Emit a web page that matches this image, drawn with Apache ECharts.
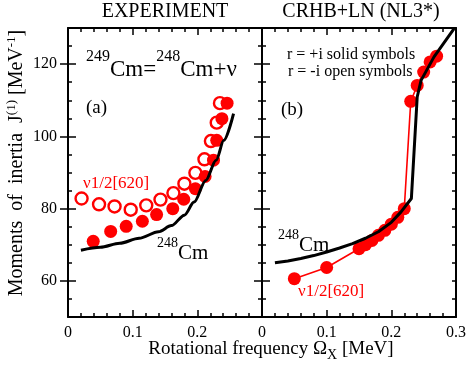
<!DOCTYPE html>
<html>
<head>
<meta charset="utf-8">
<script src="https://cdn.jsdelivr.net/npm/echarts@6/dist/echarts.min.js"></script>
<style>html,body{margin:0;padding:0;background:#fff}#c{width:469px;height:369px}</style>
</head>
<body>
<div id="c"></div>
<script>
// ---------- data ----------
// Panel (a) EXPERIMENT
const expCurveX = [0.02, 0.05, 0.08, 0.11, 0.14, 0.16, 0.18, 0.195, 0.213, 0.229, 0.241, 0.256];
const expCurveY = [68.5, 69.3, 70.4, 71.8, 73.6, 75.3, 78.2, 81.8, 87.8, 93.4, 98.9, 106.3];
const expSolidX = [0.039, 0.066, 0.090, 0.115, 0.137, 0.162, 0.179, 0.197, 0.212, 0.225, 0.230, 0.238, 0.246];
const expSolidY = [70.95, 73.7, 75.1, 76.5, 78.35, 80.0, 82.6, 85.5, 88.9, 93.4, 98.9, 104.9, 109.2];
const expOpenX = [0.021, 0.048, 0.072, 0.097, 0.121, 0.143, 0.163, 0.180, 0.197, 0.211, 0.221, 0.230, 0.235];
const expOpenY = [82.8, 81.2, 80.6, 79.7, 80.9, 82.5, 84.3, 86.9, 89.9, 93.65, 98.7, 103.8, 109.2];
// Panel (b) CRHB+LN (NL3*)
const thCurveX = [0.02, 0.04, 0.06, 0.08, 0.10, 0.12, 0.14, 0.16, 0.18, 0.20, 0.215, 0.231, 0.24, 0.246, 0.266, 0.297];
const thCurveY = [65.0, 65.5, 66.2, 67.0, 68.0, 69.1, 70.3, 71.8, 73.6, 76.2, 79.1, 82.8, 110.9, 115.5, 122.0, 129.8];
const thNuX = [0.05, 0.10, 0.15, 0.16, 0.17, 0.18, 0.19, 0.20, 0.21, 0.22, 0.23, 0.24, 0.25, 0.26, 0.27];
const thNuY = [60.6, 63.7, 68.9, 70.0, 71.2, 72.6, 74.0, 75.7, 77.6, 80.0, 109.7, 114.1, 117.8, 120.6, 122.2];
// Axes
const xTickValues = [0, 0.1, 0.2, 0.3];
const yLabelValues = [60, 80, 100, 120];

// ---------- chart ----------
const FONT = 'Liberation Serif';
const RED = '#ff0000';
const pair = (xs, ys) => xs.map((x, i) => [x, ys[i]]);

function xAxisCfg(gi, pos, showLabel, showMax) {
  return {
    type: 'value', gridIndex: gi, position: pos, min: 0, max: 0.3, interval: 0.1,
    axisLine: { show: true, onZero: false, lineStyle: { color: '#000', width: 2 } },
    axisTick: { show: true, inside: true, length: 7, lineStyle: { color: '#000', width: 1.5 } },
    minorTick: { show: true, splitNumber: 5, length: 4, lineStyle: { color: '#000', width: 1.5 } },
    splitLine: { show: false }, minorSplitLine: { show: false },
    axisLabel: {
      show: showLabel, showMaxLabel: showMax, showMinLabel: true,
      fontFamily: FONT, fontSize: 16, color: '#000', margin: 8,
      formatter: v => { const r = Math.round(v * 10) / 10; return xTickValues.indexOf(r) >= 0 ? String(r) : ''; }
    }
  };
}
function yMinorCfg(gi, pos, showLabel) {
  return {
    type: 'value', gridIndex: gi, position: pos, min: 50, max: 130, interval: 5,
    axisLine: { show: true, onZero: false, lineStyle: { color: '#000', width: 2 } },
    axisTick: { show: true, inside: true, length: 4, lineStyle: { color: '#000', width: 1.5 } },
    splitLine: { show: false },
    axisLabel: {
      show: showLabel, fontFamily: FONT, fontSize: 16, color: '#000', margin: 11,
      formatter: v => yLabelValues.indexOf(v) >= 0 ? String(v) : ''
    }
  };
}
function yMajorCfg(gi, pos) {
  return {
    type: 'value', gridIndex: gi, position: pos, min: 50, max: 130, interval: 5,
    axisLine: { show: false },
    axisTick: { show: true, inside: true, length: 8, customValues: yLabelValues, lineStyle: { color: '#000', width: 1.5 } },
    splitLine: { show: false },
    axisLabel: { show: false }
  };
}

const chart = echarts.init(document.getElementById('c'), null, { renderer: 'canvas' });

const supRich = (main, sup, pad) => ({
  m: { fontFamily: FONT, fontSize: main, verticalAlign: 'bottom', fill: '#000' },
  s: { fontFamily: FONT, fontSize: sup, verticalAlign: 'bottom', padding: [0, 0, pad, 0], fill: '#000' }
});

chart.setOption({
  animation: false,
  backgroundColor: '#fff',
  grid: [
    { left: 68, top: 28, width: 194, height: 289 },
    { left: 262, top: 28, width: 195, height: 289 }
  ],
  xAxis: [
    xAxisCfg(0, 'bottom', true, false),
    xAxisCfg(0, 'top', false, false),
    xAxisCfg(1, 'bottom', true, true),
    xAxisCfg(1, 'top', false, false)
  ],
  yAxis: [
    yMinorCfg(0, 'left', true),
    yMinorCfg(0, 'right', false),
    yMajorCfg(0, 'left'),
    yMajorCfg(0, 'right'),
    yMinorCfg(1, 'left', false),
    yMinorCfg(1, 'right', false),
    yMajorCfg(1, 'left'),
    yMajorCfg(1, 'right')
  ],
  series: [
    { type: 'scatter', xAxisIndex: 0, yAxisIndex: 0, z: 2, symbol: 'circle', symbolSize: 12,
      itemStyle: { color: '#fff', borderColor: RED, borderWidth: 2.4, opacity: 1 },
      data: pair(expOpenX, expOpenY) },
    { type: 'scatter', xAxisIndex: 0, yAxisIndex: 0, z: 3, symbol: 'circle', symbolSize: 13,
      itemStyle: { color: RED, opacity: 1 },
      data: pair(expSolidX, expSolidY) },
    { type: 'line', xAxisIndex: 0, yAxisIndex: 0, z: 4, showSymbol: false, smooth: 0.3, smoothMonotone: 'x',
      lineStyle: { color: '#000', width: 3 },
      data: pair(expCurveX, expCurveY) },
    { type: 'line', xAxisIndex: 2, yAxisIndex: 4, z: 2, symbol: 'circle', symbolSize: 13, showSymbol: true,
      lineStyle: { color: RED, width: 1.6 }, itemStyle: { color: RED },
      data: pair(thNuX, thNuY) },
    { type: 'line', xAxisIndex: 2, yAxisIndex: 4, z: 4, showSymbol: false,
      lineStyle: { color: '#000', width: 3 },
      data: pair(thCurveX, thCurveY) }
  ],
  graphic: [
    { type: 'text', x: 165, y: 12, style: { text: 'EXPERIMENT', fontFamily: FONT, fontSize: 20, fill: '#000', align: 'center', verticalAlign: 'middle' } },
    { type: 'text', x: 361, y: 12, style: { text: 'CRHB+LN (NL3*)', fontFamily: FONT, fontSize: 20, fill: '#000', align: 'center', verticalAlign: 'middle' } },
    { type: 'text', x: 86, y: 81, style: { text: '{s|249}{m|Cm=}{s|248}{m|Cm+ν}', rich: supRich(23, 16, 16), align: 'left', verticalAlign: 'bottom' } },
    { type: 'text', x: 86, y: 108, style: { text: '(a)', fontFamily: FONT, fontSize: 19, fill: '#000', align: 'left', verticalAlign: 'middle' } },
    { type: 'text', x: 83, y: 184, style: { text: 'ν1/2[620]', fontFamily: FONT, fontSize: 17, fill: RED, align: 'left', verticalAlign: 'middle' } },
    { type: 'text', x: 157, y: 264, style: { text: '{s|248}{m|Cm}', rich: supRich(21, 14, 14), align: 'left', verticalAlign: 'bottom' } },
    { type: 'text', x: 281, y: 110, style: { text: '(b)', fontFamily: FONT, fontSize: 19, fill: '#000', align: 'left', verticalAlign: 'middle' } },
    { type: 'text', x: 287, y: 55, style: { text: 'r = +i solid symbols', fontFamily: FONT, fontSize: 16, fill: '#000', align: 'left', verticalAlign: 'middle' } },
    { type: 'text', x: 288, y: 72, style: { text: 'r = -i open symbols', fontFamily: FONT, fontSize: 16, fill: '#000', align: 'left', verticalAlign: 'middle' } },
    { type: 'text', x: 278, y: 256, style: { text: '{s|248}{m|Cm}', rich: supRich(21, 14, 14), align: 'left', verticalAlign: 'bottom' } },
    { type: 'text', x: 298, y: 292, style: { text: 'ν1/2[620]', fontFamily: FONT, fontSize: 17, fill: RED, align: 'left', verticalAlign: 'middle' } },
    { type: 'text', x: 16, y: 163, rotation: Math.PI / 2,
      style: { text: '{m|Moments  of  inertia  J}{s|(1)}{m| [MeV}{s|-1}{m|]}', rich: supRich(20, 13, 9), align: 'center', verticalAlign: 'middle' } },
    { type: 'text', x: 271, y: 351,
      style: { text: '{m|Rotational frequency Ω}{b|X}{m| [MeV]}',
        rich: {
          m: { fontFamily: FONT, fontSize: 19, verticalAlign: 'bottom', padding: [0, 0, 4, 0], fill: '#000' },
          b: { fontFamily: FONT, fontSize: 14, verticalAlign: 'bottom', fill: '#000' }
        }, align: 'center', verticalAlign: 'middle' } }
  ]
});
</script>
</body>
</html>
